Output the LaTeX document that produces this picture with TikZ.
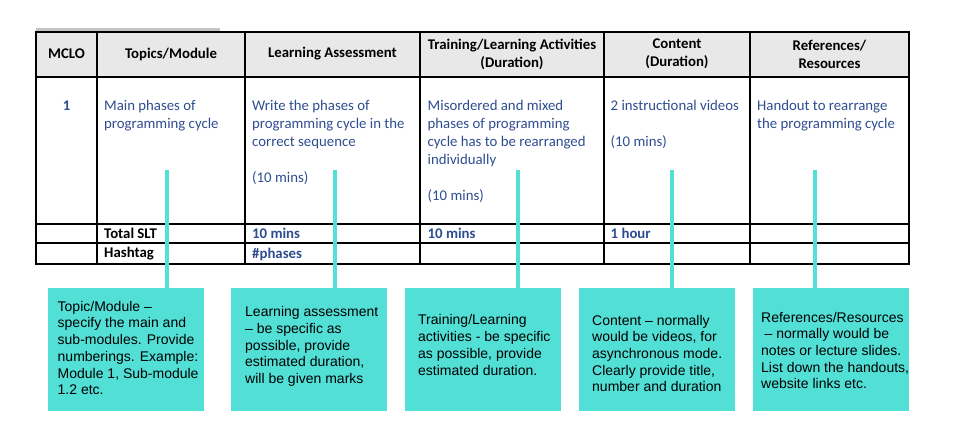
\documentclass[tikz,border=0pt]{standalone}
\usepackage{fontspec}
\setmainfont{Carlito}
\newfontfamily\arialf{Liberation Sans}
\definecolor{tealbox}{HTML}{52DFD6}
\definecolor{bodyblue}{HTML}{2E4D8F}
\definecolor{headgray}{HTML}{E8E8E8}
\definecolor{stripgray}{HTML}{C4C4C4}
\begin{document}
\begin{tikzpicture}[x=1pt,y=-1pt,
  tline/.style={line width=1.3pt, draw=black},
  touter/.style={line width=1.8pt, draw=black},
  headtxt/.style={font=\fontsize{14.8}{18}\selectfont\bfseries, align=center, inner sep=0, text=black},
  celltxt/.style={font=\fontsize{14.8}{18}\selectfont, align=left, inner sep=0, anchor=north west, text=bodyblue},
  rowtxt/.style={font=\fontsize{14.8}{18}\selectfont\bfseries, inner sep=0, anchor=west},
  notebox/.style={fill=tealbox, draw=none, minimum width=156pt, minimum height=123pt, anchor=north west, inner sep=0},
  notetxt/.style={font=\arialf\fontsize{14}{16.7}\selectfont, align=left, inner sep=0, anchor=west, text=black},
  lead/.style={draw=tealbox, line width=4pt}]
\useasboundingbox (0,0) rectangle (957,440);
% gray strip above table
\fill[stripgray] (36,28) rectangle (220,31);
% header fill
\fill[headgray] (36,32) rectangle (909,77);
% horizontal lines
\draw[tline] (36,77) -- (909,77);
\draw[tline] (36,224) -- (909,224);
\draw[tline] (36,243) -- (909,243);
% vertical lines
\foreach \xx in {97,245,420,604,750} \draw[tline] (\xx,32) -- (\xx,264);
\draw[touter] (36,32) rectangle (909,264);
% header texts
\node[headtxt] (hmclo) at (66.5,54) {MCLO};
\node[headtxt] (htop) at (171,54) {Topics/Module};
\node[headtxt] (hla) at (332.5,54) {Learning Assessment};
\node[headtxt] (htla) at (512,54) {Training/Learning Activities\\(Duration)};
\node[headtxt] (hcon) at (677,54) {Content\\(Duration)};
\node[headtxt] (href) at (829.5,54) {References/\\Resources};
% body
\node[font=\fontsize{14.8}{18}\selectfont\bfseries, text=bodyblue, inner sep=0] (mclo) at (66.5,106) {1};
\node[celltxt] (ctop) at (104,100.5) {Main phases of\\programming cycle};
\node[celltxt] (cla) at (252,100.5) {Write the phases of\\programming cycle in the\\correct sequence\\[18pt](10 mins)};
\node[celltxt] (ctla) at (427.5,100.5) {Misordered and mixed\\phases of programming\\cycle has to be rearranged\\individually\\[18pt](10 mins)};
\node[celltxt] (ccon) at (610.5,100.5) {2 instructional videos\\[18pt](10 mins)};
\node[celltxt] (cref) at (757,100.5) {Handout to rearrange\\the programming cycle};
% total / hashtag rows
\node[rowtxt, text=black] (slt) at (104,233.5) {Total SLT};
\node[rowtxt, text=bodyblue] (sla) at (252,233.5) {10 mins};
\node[rowtxt, text=bodyblue] (stla) at (427.5,233.5) {10 mins};
\node[rowtxt, text=bodyblue] (scon) at (610.5,233.5) {1 hour};
\node[rowtxt, text=black] (hash) at (104,254) {Hashtag};
\node[rowtxt, text=bodyblue] (hla2) at (252,254) {\#phases};
% note boxes
\node[notebox] (b1) at (48,288) {};
\node[notebox] (b2) at (231,288) {};
\node[notebox] (b3) at (405,288) {};
\node[notebox] (b4) at (579,288) {};
\node[notebox] (b5) at (753,288) {};
% connector start points
\coordinate (p1) at (167,170);
\coordinate (p2) at (335,170);
\coordinate (p3) at (518,170);
\coordinate (p4) at (672,170);
\coordinate (p5) at (815,170);
\draw[lead] (p1) -- (p1 |- b1.north);
\draw[lead] (p2) -- (p2 |- b2.north);
\draw[lead] (p3) -- (p3 |- b3.north);
\draw[lead] (p4) -- (p4 |- b4.north);
\draw[lead] (p5) -- (p5 |- b5.north);
% note texts
\node[notetxt] (t1) at (57.5,348) {Topic/Module –\\specify the main and\\sub-modules. Provide\\numberings. Example:\\Module 1, Sub-module\\1.2 etc.};
\node[notetxt] (t2) at (245,346.5) {Learning assessment\\– be specific as\\possible, provide\\estimated duration,\\will be given marks};
\node[notetxt] (t3) at (418,345) {Training/Learning\\activities - be specific\\as possible, provide\\estimated duration.};
\node[notetxt] (t4) at (592,353.5) {Content – normally\\would be videos, for\\asynchronous mode.\\Clearly provide title,\\number and duration};
\node[notetxt] (t5) at (761,350.5) {References/Resources\\\hspace*{3.5pt}– normally would be\\notes or lecture slides.\\List down the handouts,\\website links etc.};
\end{tikzpicture}
\end{document}
